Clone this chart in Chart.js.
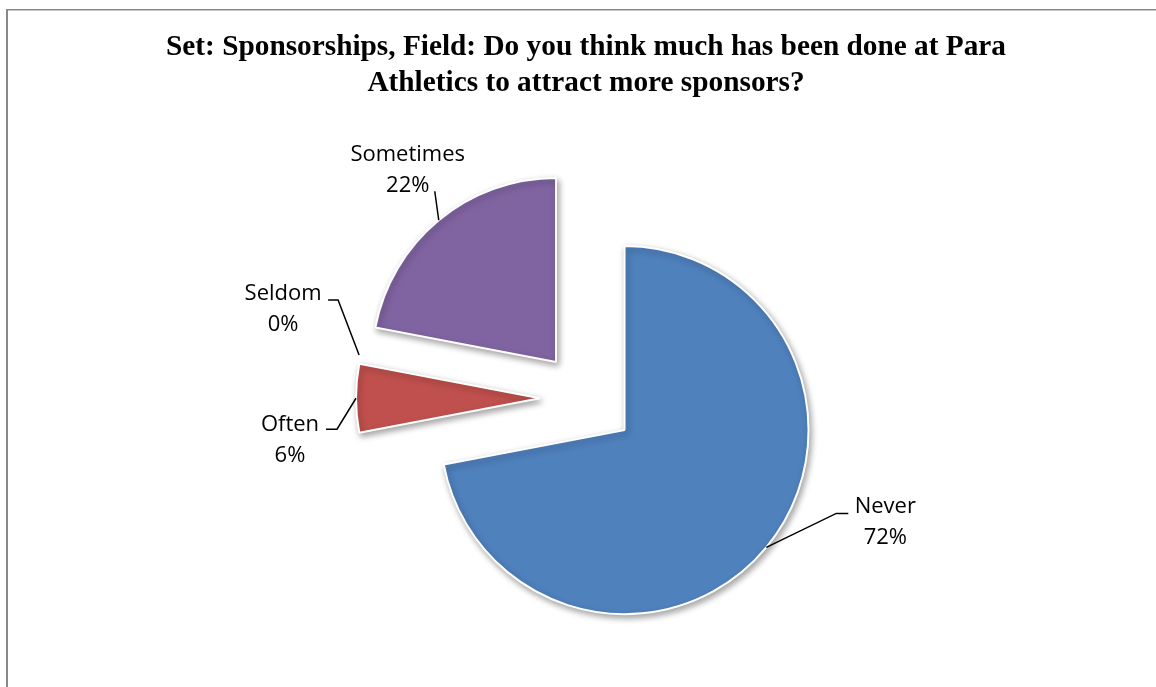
<!DOCTYPE html>
<html>
<head>
<meta charset="utf-8">
<script src="https://cdn.jsdelivr.net/npm/chart.js@4.4.1/dist/chart.umd.min.js"></script>
<style>
  html, body { margin: 0; padding: 0; background: #fff; }
</style>
</head>
<body>
<canvas id="myChart" width="1156" height="687"></canvas>
<script>
// data
const categories = ["Never", "Often", "Seldom", "Sometimes"];
const percentValues = [72, 6, 0, 22];
const titleLines = [
  "Set: Sponsorships, Field: Do you think much has been done at Para",
  "Athletics to attract more sponsors?"
];

// styles
const sliceColors = ["#4F81BD", "#C0504D", "#9BBB59", "#8064A2"];
const explode = [50, 46, 47, 47]; // px each slice is pulled out
// label placement relative to the point where the leader meets the slice
const labelLayout = [
  { elbow: [70, -34], end: [82, -34], text: [119, -41] },
  { elbow: [-19, 31], end: [-30, 31], text: [-66, 26] },
  { elbow: [-21, -55], end: [-31, -55], text: [-76, -61] },
  { elbow: null, end: [-4, -29], text: [-31, -66] }
];

// pie that pulls every slice out by a fixed number of pixels
// (the built in offset also grows the radius of big slices)
class ExplodedPie extends Chart.PieController {
  draw() {
    const ctx = this.chart.ctx;
    const area = this.chart.chartArea;
    this._cachedMeta.data.forEach((arc, i) => {
      const mid = (arc.startAngle + arc.endAngle) / 2;
      ctx.save();
      ctx.translate(Math.cos(mid) * explode[i], Math.sin(mid) * explode[i]);
      arc.draw(ctx, area);
      ctx.restore();
    });
  }
}
ExplodedPie.id = "explodedPie";
Chart.register(ExplodedPie);

const framePlugin = {
  id: "frame",
  beforeDraw(chart) {
    const ctx = chart.ctx;
    ctx.save();
    ctx.fillStyle = "#fff";
    ctx.fillRect(0, 0, chart.width, chart.height);
    ctx.fillStyle = "#888";
    ctx.fillRect(6, 9, chart.width, 1.5);
    ctx.fillRect(6, 9, 2, chart.height);
    ctx.restore();
  }
};

const shadowPlugin = {
  id: "sliceShadow",
  beforeDatasetsDraw(chart) {
    const ctx = chart.ctx;
    ctx.save();
    ctx.shadowColor = "rgba(0,0,0,0.35)";
    ctx.shadowBlur = 6;
    ctx.shadowOffsetX = 2;
    ctx.shadowOffsetY = 3;
  },
  afterDatasetsDraw(chart) {
    chart.ctx.restore();
  }
};

const labelPlugin = {
  id: "outsideLabels",
  afterDatasetsDraw(chart) {
    const ctx = chart.ctx;
    const meta = chart.getDatasetMeta(0);
    ctx.save();
    ctx.strokeStyle = "#000";
    ctx.lineWidth = 1.5;
    ctx.fillStyle = "#000";
    ctx.font = "22px 'Open Sans'";
    ctx.textAlign = "center";
    ctx.textBaseline = "middle";
    meta.data.forEach((arc, i) => {
      const p = arc.getProps(["x", "y", "startAngle", "endAngle", "outerRadius"], true);
      const mid = (p.startAngle + p.endAngle) / 2;
      const ax = p.x + Math.cos(mid) * (p.outerRadius + explode[i]);
      const ay = p.y + Math.sin(mid) * (p.outerRadius + explode[i]);
      const lay = labelLayout[i];
      ctx.beginPath();
      ctx.moveTo(ax, ay);
      if (lay.elbow) ctx.lineTo(ax + lay.elbow[0], ay + lay.elbow[1]);
      ctx.lineTo(ax + lay.end[0], ay + lay.end[1]);
      ctx.stroke();
      const tx = ax + lay.text[0];
      const ty = ay + lay.text[1];
      ctx.fillText(categories[i], tx, ty);
      ctx.fillText(percentValues[i] + "%", tx, ty + 31);
    });
    ctx.restore();
  }
};

new Chart("myChart", {
  type: "explodedPie",
  data: {
    labels: categories,
    datasets: [{
      data: percentValues,
      backgroundColor: sliceColors,
      borderColor: "#fff",
      borderWidth: 2,
      hoverOffset: 0
    }]
  },
  options: {
    responsive: false,
    animation: false,
    events: [],
    radius: 184,
    layout: { padding: { left: 16, right: 0, top: 0, bottom: 1 } },
    plugins: {
      legend: { display: false },
      tooltip: { enabled: false },
      title: {
        display: true,
        text: titleLines,
        color: "#000",
        font: { family: "'Liberation Serif', 'Times New Roman', serif", size: 29.3, weight: "bold", lineHeight: 1.22 },
        padding: { top: 30, bottom: 9 }
      }
    }
  },
  plugins: [framePlugin, shadowPlugin, labelPlugin]
});
</script>
</body>
</html>
